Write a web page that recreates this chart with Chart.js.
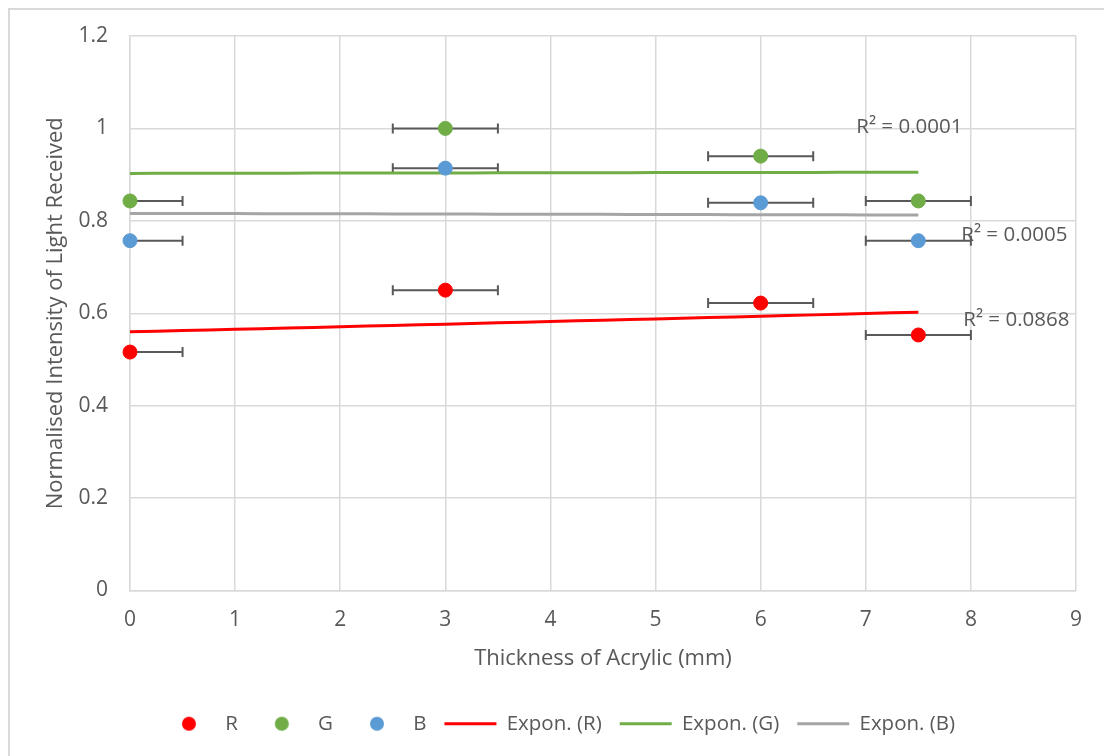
<!DOCTYPE html>
<html>
<head>
<meta charset="utf-8">
<title>Light intensity vs acrylic thickness</title>
<script src="https://cdn.jsdelivr.net/npm/chart.js@4"></script>
<style>
  html, body { margin: 0; padding: 0; background: #fff; }
  #wrap { width: 1104px; height: 756px; }
</style>
</head>
<body>
<div id="wrap"><canvas id="chart" width="1104" height="756"></canvas></div>
<script>
// Measured data: thickness of acrylic (mm) and normalised intensity per colour channel
const thickness = [0, 3, 6, 7.5];
const red = [0.516, 0.650, 0.622, 0.553];
const green = [0.843, 1.000, 0.940, 0.843];
const blue = [0.757, 0.914, 0.839, 0.757];
const thicknessError = 0.5; // +/- mm on every reading

const seriesNames = ['R', 'G', 'B'];
const trendNames = ['Expon. (R)', 'Expon. (G)', 'Expon. (B)'];
const rSquaredText = ['R\u00b2 = 0.0868', 'R\u00b2 = 0.0001', 'R\u00b2 = 0.0005'];

const yTicks = [0, 0.2, 0.4, 0.6, 0.8, 1, 1.2];
const xTicks = [0, 1, 2, 3, 4, 5, 6, 7, 8, 9];

const pointColors = ['#ff0000', '#70ad47', '#5b9bd5'];
const trendColors = ['#ff0000', '#70ad47', '#a5a5a5'];
const textColor = '#595959';
const gridColor = '#d9d9d9';
const FONT = '"Open Sans", sans-serif';
const TICK_SIZE = 21;
const TITLE_SIZE = 22;
const LABEL_SIZE = 20.5;

// Least squares fit of ln(y) = ln(a) + b*x, i.e. y = a * e^(b*x)
function expFit(xs, ys) {
    const n = xs.length;
    const ly = ys.map(v => Math.log(v));
    const mx = xs.reduce((s, v) => s + v, 0) / n;
    const my = ly.reduce((s, v) => s + v, 0) / n;
    let sxy = 0, sxx = 0;
    xs.forEach((x, i) => {
        sxy += (x - mx) * (ly[i] - my);
        sxx += (x - mx) * (x - mx);
    });
    const b = sxy / sxx;
    return { a: Math.exp(my - b * mx), b: b };
}

// Evaluate the fitted curve across the measured range
function trendPoints(ys) {
    const fit = expFit(thickness, ys);
    const x0 = thickness[0], x1 = thickness[thickness.length - 1];
    const pts = [];
    for (let i = 0; i <= 30; i++) {
        const x = x0 + (x1 - x0) * i / 30;
        pts.push({ x: x, y: fit.a * Math.exp(fit.b * x) });
    }
    return pts;
}

function toPoints(ys) {
    return thickness.map((x, i) => ({ x: x, y: ys[i] }));
}

// Small round markers for the legend so they sit centred in the wide legend box
function makeDot(color) {
    const c = document.createElement('canvas');
    c.width = 16; c.height = 16;
    const g = c.getContext('2d');
    g.fillStyle = color;
    g.beginPath();
    g.arc(8, 8, 7, 0, Math.PI * 2);
    g.fill();
    return c;
}

const seriesValues = [red, green, blue];

const datasets = [];
seriesValues.forEach((ys, i) => {
    datasets.push({
        type: 'scatter',
        label: seriesNames[i],
        data: toPoints(ys),
        backgroundColor: pointColors[i],
        borderColor: pointColors[i],
        pointRadius: 7,
        pointHoverRadius: 7,
        clip: false
    });
});
seriesValues.forEach((ys, i) => {
    datasets.push({
        type: 'line',
        label: trendNames[i],
        data: trendPoints(ys),
        borderColor: trendColors[i],
        backgroundColor: trendColors[i],
        borderWidth: 3,
        pointRadius: 0,
        fill: false,
        tension: 0
    });
});

// Chart border, only the left and top edges fall inside the page
const framePlugin = {
    id: 'frame',
    beforeDraw(chart) {
        const ctx = chart.ctx;
        ctx.save();
        ctx.fillStyle = '#ffffff';
        ctx.fillRect(0, 0, chart.width, chart.height);
        ctx.strokeStyle = gridColor;
        ctx.lineWidth = 2;
        ctx.beginPath();
        ctx.moveTo(9, chart.height + 5);
        ctx.lineTo(9, 9);
        ctx.lineTo(chart.width + 5, 9);
        ctx.stroke();
        ctx.restore();
    }
};

// Horizontal error bars with end caps
const errorBarPlugin = {
    id: 'errorBars',
    beforeDatasetsDraw(chart) {
        const ctx = chart.ctx;
        const xs = chart.scales.x, ys = chart.scales.y;
        ctx.save();
        ctx.strokeStyle = '#595959';
        ctx.lineWidth = 2;
        seriesValues.forEach(vals => {
            thickness.forEach((x, i) => {
                const lo = Math.max(x - thicknessError, xs.min);
                const hi = Math.min(x + thicknessError, xs.max);
                const px0 = xs.getPixelForValue(lo);
                const px1 = xs.getPixelForValue(hi);
                const py = ys.getPixelForValue(vals[i]);
                ctx.beginPath();
                ctx.moveTo(px0, py); ctx.lineTo(px1, py);
                ctx.moveTo(px0, py - 5); ctx.lineTo(px0, py + 5);
                ctx.moveTo(px1, py - 5); ctx.lineTo(px1, py + 5);
                ctx.stroke();
            });
        });
        ctx.restore();
    }
};

// R squared labels placed next to the end of each trend line
const labelOffsets = [[98, 8], [-9, -45], [96, 20]];
const rSquaredPlugin = {
    id: 'rSquared',
    afterDatasetsDraw(chart) {
        const ctx = chart.ctx;
        const xs = chart.scales.x, ys = chart.scales.y;
        ctx.save();
        ctx.font = LABEL_SIZE + 'px ' + FONT;
        ctx.fillStyle = textColor;
        ctx.textAlign = 'center';
        ctx.textBaseline = 'middle';
        rSquaredText.forEach((txt, i) => {
            const pts = datasets[3 + i].data;
            const end = pts[pts.length - 1];
            const px = xs.getPixelForValue(end.x) + labelOffsets[i][0];
            const py = ys.getPixelForValue(end.y) + labelOffsets[i][1];
            ctx.fillText(txt, px, py);
        });
        ctx.restore();
    }
};

const ctx = document.getElementById('chart').getContext('2d');
new Chart(ctx, {
    data: { datasets: datasets },
    options: {
        responsive: false,
        animation: false,
        devicePixelRatio: 1,
        layout: { padding: { left: 42, top: 36, right: 28, bottom: 12 } },
        scales: {
            x: {
                type: 'linear',
                min: 0,
                max: 9,
                afterBuildTicks: scale => { scale.ticks = xTicks.map(v => ({ value: v })); },
                afterFit: scale => { scale.height = 105; },
                ticks: { color: textColor, font: { family: FONT, size: TICK_SIZE }, padding: 17 },
                grid: { color: gridColor, lineWidth: 1.5, drawTicks: false },
                border: { color: gridColor, width: 1.5 },
                title: {
                    display: true,
                    text: 'Thickness of Acrylic (mm)',
                    color: textColor,
                    font: { family: FONT, size: TITLE_SIZE },
                    padding: { top: 0, bottom: 24 }
                }
            },
            y: {
                type: 'linear',
                min: 0,
                max: 1.2,
                afterBuildTicks: scale => { scale.ticks = yTicks.map(v => ({ value: v })); },
                afterFit: scale => { scale.width = 88; },
                ticks: {
                    color: textColor,
                    font: { family: FONT, size: TICK_SIZE },
                    padding: 22,
                    callback: value => String(+value.toFixed(1))
                },
                grid: { color: gridColor, lineWidth: 1.5, drawTicks: false },
                border: { color: gridColor, width: 1.5 },
                title: {
                    display: true,
                    text: 'Normalised Intensity of Light Received',
                    color: textColor,
                    font: { family: FONT, size: TITLE_SIZE },
                    padding: { top: 1, bottom: 0 }
                }
            }
        },
        plugins: {
            tooltip: { enabled: false },
            legend: {
                position: 'bottom',
                labels: {
                    color: textColor,
                    font: { family: FONT, size: LABEL_SIZE },
                    usePointStyle: true,
                    pointStyleWidth: 52,
                    boxHeight: 14,
                    padding: 18,
                    generateLabels(chart) {
                        const items = Chart.defaults.plugins.legend.labels.generateLabels(chart);
                        items.forEach(item => {
                            const ds = chart.data.datasets[item.datasetIndex];
                            if (ds.type === 'scatter') {
                                item.pointStyle = makeDot(ds.backgroundColor);
                            } else {
                                item.pointStyle = 'line';
                                item.strokeStyle = ds.borderColor;
                                item.lineWidth = 3;
                            }
                        });
                        return items;
                    }
                }
            }
        }
    },
    plugins: [framePlugin, errorBarPlugin, rSquaredPlugin]
});
</script>
</body>
</html>
